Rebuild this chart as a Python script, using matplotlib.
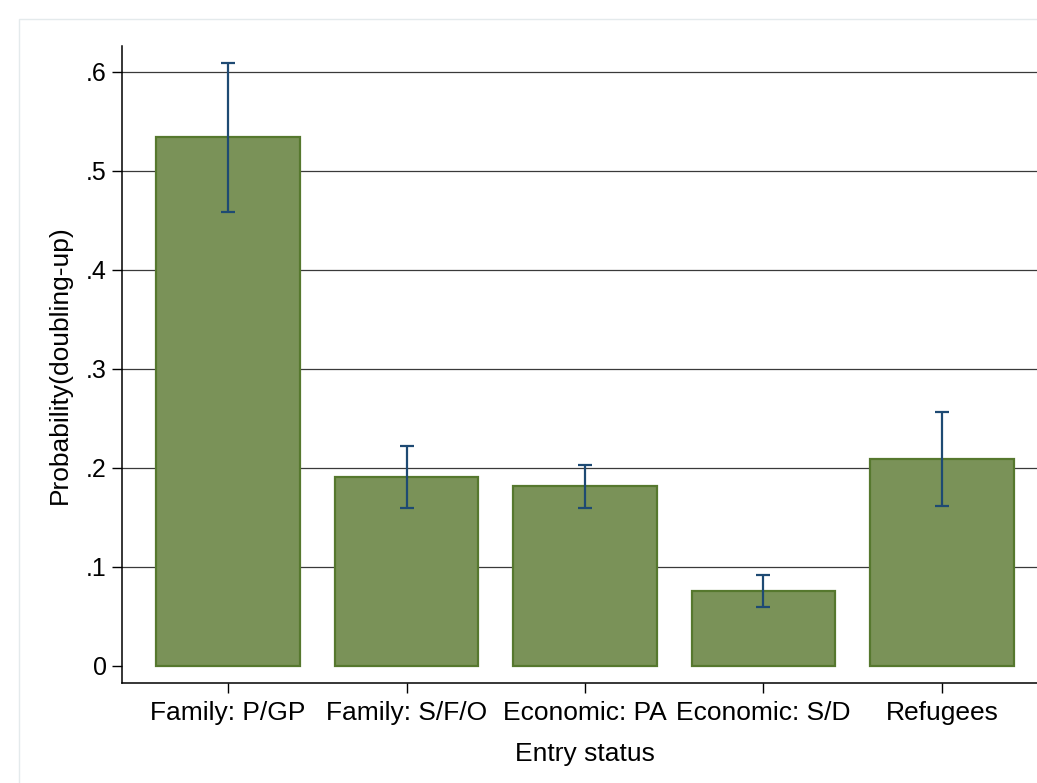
import matplotlib
matplotlib.use("Agg")
import matplotlib.pyplot as plt
from matplotlib.patches import Rectangle
import numpy as np

categories = ["Family: P/GP", "Family: S/F/O", "Economic: PA", "Economic: S/D", "Refugees"]
values = [0.534, 0.1905, 0.1814, 0.0760, 0.2085]
ci_low = [0.4584, 0.1592, 0.1598, 0.0599, 0.1615]
ci_high = [0.6088, 0.2218, 0.2026, 0.0919, 0.2561]
yticks = [0, 0.1, 0.2, 0.3, 0.4, 0.5, 0.6]
yticklabels = ["0", ".1", ".2", ".3", ".4", ".5", ".6"]

plt.rcParams['font.family'] = ['Liberation Sans', 'DejaVu Sans']

fig = plt.figure(figsize=(10.37, 7.83), dpi=100)
fig.patch.set_facecolor('white')
fig.patches.append(Rectangle((19/1037, -0.01), 1.05, 1 - 19/783 + 0.01,
                             transform=fig.transFigure, fill=False,
                             edgecolor='#e4eaec', linewidth=1.0, zorder=0))

ax = fig.add_axes([122/1037, (783-683)/783, 926/1037, (683-46)/783])
x = np.arange(len(categories))
vals = np.array(values)
lo = vals - np.array(ci_low)
hi = np.array(ci_high) - vals

for yv in yticks[1:]:
    ax.axhline(yv, color='#3a3a3a', linewidth=0.9, zorder=1)

ax.bar(x, vals, width=0.804, color='#7a9258', edgecolor='#56782e', linewidth=1.6, zorder=2)
ax.errorbar(x, vals, yerr=[lo, hi], fmt='none', ecolor='#1e4a73', elinewidth=1.6,
            capsize=4.7, capthick=1.6, zorder=3)

ax.set_xlim(-0.595, 4.595)
ax.set_ylim(-0.0172, 0.626)
ax.set_yticks(yticks)
ax.set_yticklabels(yticklabels)
ax.set_xticks(x)
ax.set_xticklabels(categories)
ax.tick_params(axis='both', direction='out', length=7, width=1.0, color='black')
ax.tick_params(axis='y', pad=4, labelsize=18)
ax.tick_params(axis='x', pad=6, labelsize=19)
for s in ['top', 'right']:
    ax.spines[s].set_visible(False)
for s in ['left', 'bottom']:
    ax.spines[s].set_linewidth(1.1)
ax.set_xlabel("Entry status", fontsize=19, labelpad=12)
ax.set_ylabel("Probability(doubling-up)", fontsize=19, labelpad=10)

fig.savefig("out.png", dpi=100, facecolor='white')
